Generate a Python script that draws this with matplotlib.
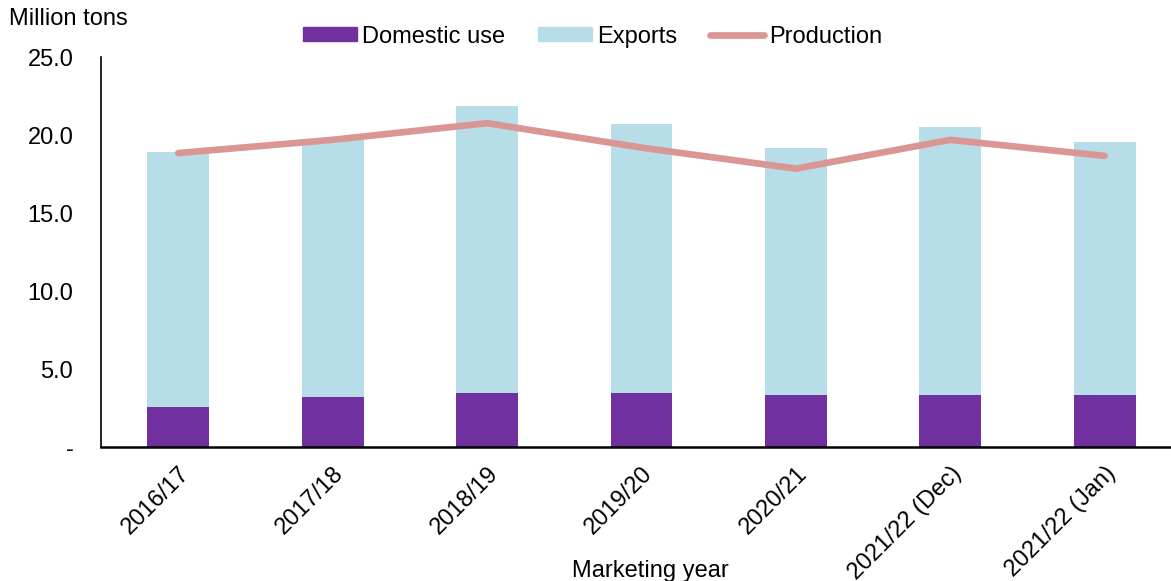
import matplotlib.pyplot as plt
import numpy as np
from matplotlib.patches import Patch
from matplotlib.lines import Line2D

plt.rcParams['font.family'] = ['Liberation Sans', 'DejaVu Sans']

years = ['2016/17', '2017/18', '2018/19', '2019/20', '2020/21',
         '2021/22 (Dec)', '2021/22 (Jan)']
domestic = [2.56, 3.2, 3.48, 3.48, 3.33, 3.33, 3.33]
total_supply = [18.9, 19.7, 21.85, 20.7, 19.2, 20.5, 19.55]
exports = [t - d for t, d in zip(total_supply, domestic)]
production = [18.85, 19.7, 20.77, 19.2, 17.85, 19.7, 18.67]

c_dom = '#7030A0'
c_exp = '#B7DEE8'
c_prod = '#DA9694'
fs = 17

fig = plt.figure(figsize=(11.71, 5.81), dpi=100)
ax = fig.add_axes([0.0863, 0.2306, 0.923, 0.671])

x = np.arange(len(years))
ax.bar(x, domestic, width=0.4, color=c_dom, zorder=2)
ax.bar(x, exports, width=0.4, bottom=domestic, color=c_exp, zorder=2)
ax.plot(x, production, color=c_prod, lw=4.8, solid_capstyle='round',
        solid_joinstyle='round', zorder=3)

ax.set_xlim(-0.5, 6.5)
ax.set_ylim(0, 25)
ax.set_yticks(np.arange(0, 26, 5))
ax.set_yticklabels(['-'] + ['%.1f' % v for v in np.arange(5, 26, 5)])
ax.set_xticks(x)
ax.set_xticklabels(years, rotation=45, ha='right', rotation_mode='anchor')
ax.tick_params(axis='both', length=0, labelsize=fs)
ax.tick_params(axis='y', pad=20)
ax.tick_params(axis='x', pad=11)

for s in ['top', 'right']:
    ax.spines[s].set_visible(False)
ax.spines['left'].set_linewidth(1.2)
ax.spines['bottom'].set_linewidth(1.8)

fig.text(0.008, 0.968, 'Million tons', fontsize=fs, va='center')
fig.text(0.555, 0.018, 'Marketing year', fontsize=fs, ha='center', va='center')

handles = [Patch(color=c_dom), Patch(color=c_exp),
           Line2D([], [], color=c_prod, lw=4.8, solid_capstyle='round')]
fig.legend(handles, ['Domestic use', 'Exports', 'Production'],
           loc='center', bbox_to_anchor=(0.506, 0.937), ncol=3, frameon=False,
           fontsize=fs, handlelength=2.3, handleheight=0.5,
           handletextpad=0.2, columnspacing=1.4)

fig.savefig('out.png', dpi=100)
